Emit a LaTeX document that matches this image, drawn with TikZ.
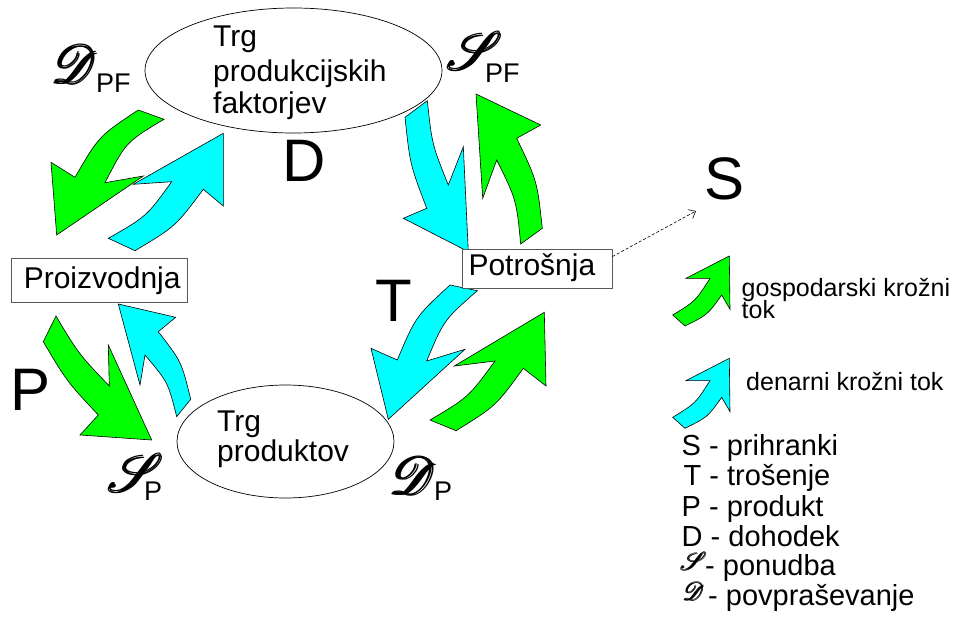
\documentclass[tikz,border=0pt]{standalone}
\usepackage{amsmath}
\usepackage{fontspec}
\setmainfont{Liberation Sans}
\usepackage{mathrsfs}
\usetikzlibrary{shapes.geometric,arrows.meta}
\definecolor{flowgreen}{RGB}{0,255,0}
\definecolor{flowcyan}{RGB}{0,255,255}
\newcommand{\bigscr}[1]{\scalebox{5.3}{$\pmb{\mathscr{#1}}$}}
\newcommand{\smallscr}[1]{\scalebox{2.5}{$\pmb{\mathscr{#1}}$}}
\begin{document}
\begin{tikzpicture}[x=1pt,y=-1pt,
  garrow/.style={fill=flowgreen,draw=black,line width=0.6pt},
  carrow/.style={fill=flowcyan,draw=black,line width=0.6pt},
  market/.style={draw=black,line width=0.7pt,ellipse,inner sep=0pt},
  sector/.style={draw=black!65,fill=white,line width=0.9pt,rectangle,inner sep=0pt},
  txt/.style={inner sep=0pt,anchor=base west,font=\fontsize{30}{33}\selectfont},
  big/.style={inner sep=0pt,anchor=base west,font=\fontsize{60}{60}\selectfont},
  sub/.style={inner sep=0pt,anchor=base west,font=\fontsize{27}{27}\selectfont},
  leg/.style={inner sep=0pt,anchor=base west,font=\fontsize{29}{29}\selectfont},
  legs/.style={inner sep=0pt,anchor=base west,font=\fontsize{25}{25}\selectfont},
  scr/.style={inner sep=0pt,anchor=center},
  savearrow/.style={draw=black,line width=0.6pt,dash pattern=on 3pt off 2pt,-{Straight Barb[length=6pt,width=10pt]}}]
\useasboundingbox (0,0) rectangle (955,629);

% ---- block arrows ----
% A green (top-left, down)
\draw[garrow] (138.3,110) .. controls (99,136) .. (75,177.3) -- (51,162.3) -- (56.7,235) -- (143.3,176) -- (105,182.7) .. controls (126,142) .. (164,119.3) -- cycle;
% B cyan (top-left, up)
\draw[carrow] (108.3,238.3) .. controls (146.5,216.5) .. (171.7,181.7) -- (133.3,184.3) -- (223.3,133.3) -- (223.3,206) -- (203.3,189.3) .. controls (175.5,226.5) .. (135,250.7) -- cycle;
% C cyan (top-right, down)
\draw[carrow] (405,117.3) .. controls (410,164.4) .. (426.7,208.3) -- (403.3,218.3) -- (468.3,251.7) -- (463.3,146.7) -- (448.3,185) .. controls (432,144.3) .. (427.3,100.7) -- cycle;
% D green (top-right, up)
\draw[garrow] (520.7,244) .. controls (516.4,199.8) .. (496.7,160) -- (482.7,198.3) -- (476,94) -- (540.7,125) -- (516.7,138.3) .. controls (537.2,181.1) .. (542.3,228.3) -- cycle;
% E green (bottom-left, down)
\draw[garrow] (43.3,341.7) .. controls (66.8,381.4) .. (98.3,415) -- (80,435) -- (151.7,440) -- (108.3,345) -- (109.3,386) .. controls (78.7,354) .. (56,316) -- cycle;
% F cyan (bottom-left, up)
\draw[carrow] (176.7,416.7) .. controls (168,382.2) .. (145,355) -- (140,385) -- (118.3,304) -- (175.7,317.3) -- (158.3,331.7) .. controls (181.6,361.8) .. (190.7,399.3) -- cycle;
% G cyan (bottom-right, down)
\draw[carrow] (450,285) .. controls (415.5,316.8) .. (397.3,360) -- (371,348.3) -- (388.3,419.3) -- (465,349.3) -- (426.7,361) .. controls (443.8,320.1) .. (477.3,290.7) -- cycle;
% H green (bottom-right, up)
\draw[garrow] (430,420) .. controls (468.5,397.2) .. (495,361) -- (454.3,366) -- (544.3,312.3) -- (546,386) -- (523.3,368.3) .. controls (495.7,406.2) .. (456,430.7) -- cycle;
% legend arrows
\draw[garrow] (672.7,315) .. controls (695.6,301) .. (710,278.3) -- (686,278.3) -- (729.3,256) -- (730,309.3) -- (721.7,295) .. controls (707.6,314.8) .. (685,326) -- cycle;
\begin{scope}[shift={(0,102.3)}]
\draw[carrow] (672.7,315) .. controls (695.6,301) .. (710,278.3) -- (686,278.3) -- (729.3,256) -- (730,309.3) -- (721.7,295) .. controls (707.6,314.8) .. (685,326) -- cycle;
\end{scope}

% ---- markets and sectors ----
\node[market, minimum width=297pt, minimum height=125pt] (mpf) at (293.5,70.5) {};
\node[market, minimum width=217pt, minimum height=113pt] (mp) at (285.5,441.5) {};
\node[sector, minimum width=176pt, minimum height=44pt] (pro) at (99,280) {};
\node[sector, minimum width=150pt, minimum height=39pt] (pot) at (537,268.5) {};

\node[txt] (mpf1) at (213,46.7) {Trg};
\node[txt] (mpf2) at (213,81) {produkcijskih};
\node[txt] (mpf3) at (213,113) {faktorjev};
\node[txt] (mp1) at (217,431.7) {Trg};
\node[txt] (mp2) at (217,461.7) {produktov};
\node[txt] (protxt) at (23.6,288.3) {Proizvodnja};
\node[txt] (pottxt) at (468.3,275) {Potrošnja};

% ---- savings ----
\coordinate (send) at (696,211);
\draw[savearrow] (pot.9) -- (send);

% ---- big letters ----
\node[big] (bigD) at (282,181.7) {D};
\node[big] (bigT) at (375.3,321.7) {T};
\node[big] (bigP) at (10.3,410) {P};
\node[big] (bigS) at (703.9,199) {S};

% ---- supply / demand labels ----
\node[scr] (dpf) at (76,64) {\bigscr{D}};
\node[sub] (dpfs) at (96,92.7) {PF};
\node[scr] (spf) at (476,51) {\bigscr{S}};
\node[sub] (spfs) at (485,82) {PF};
\node[scr] (sp) at (136.5,473) {\bigscr{S}};
\node[sub] (sps) at (144,500) {P};
\node[scr] (dp) at (414,475.5) {\bigscr{D}};
\node[sub] (dps) at (434,500) {P};

% ---- legend ----
\node[legs] (lg1) at (741.5,296) {gospodarski krožni};
\node[legs] (lg2) at (741.5,318.5) {tok};
\node[legs] (lc1) at (746,390.7) {denarni krožni tok};
\node[leg] (l1) at (681.5,455) {S - prihranki};
\node[leg] (l2) at (683.5,485) {T - trošenje};
\node[leg] (l3) at (681.5,516) {P - produkt};
\node[leg] (l4) at (681.5,546) {D - dohodek};
\node[scr] (l5s) at (694,561) {\smallscr{S}};
\node[leg] (l5) at (705,575) {- ponudba};
\node[scr] (l6s) at (694,591) {\smallscr{D}};
\node[leg] (l6) at (708,605) {- povpraševanje};
\end{tikzpicture}
\end{document}
